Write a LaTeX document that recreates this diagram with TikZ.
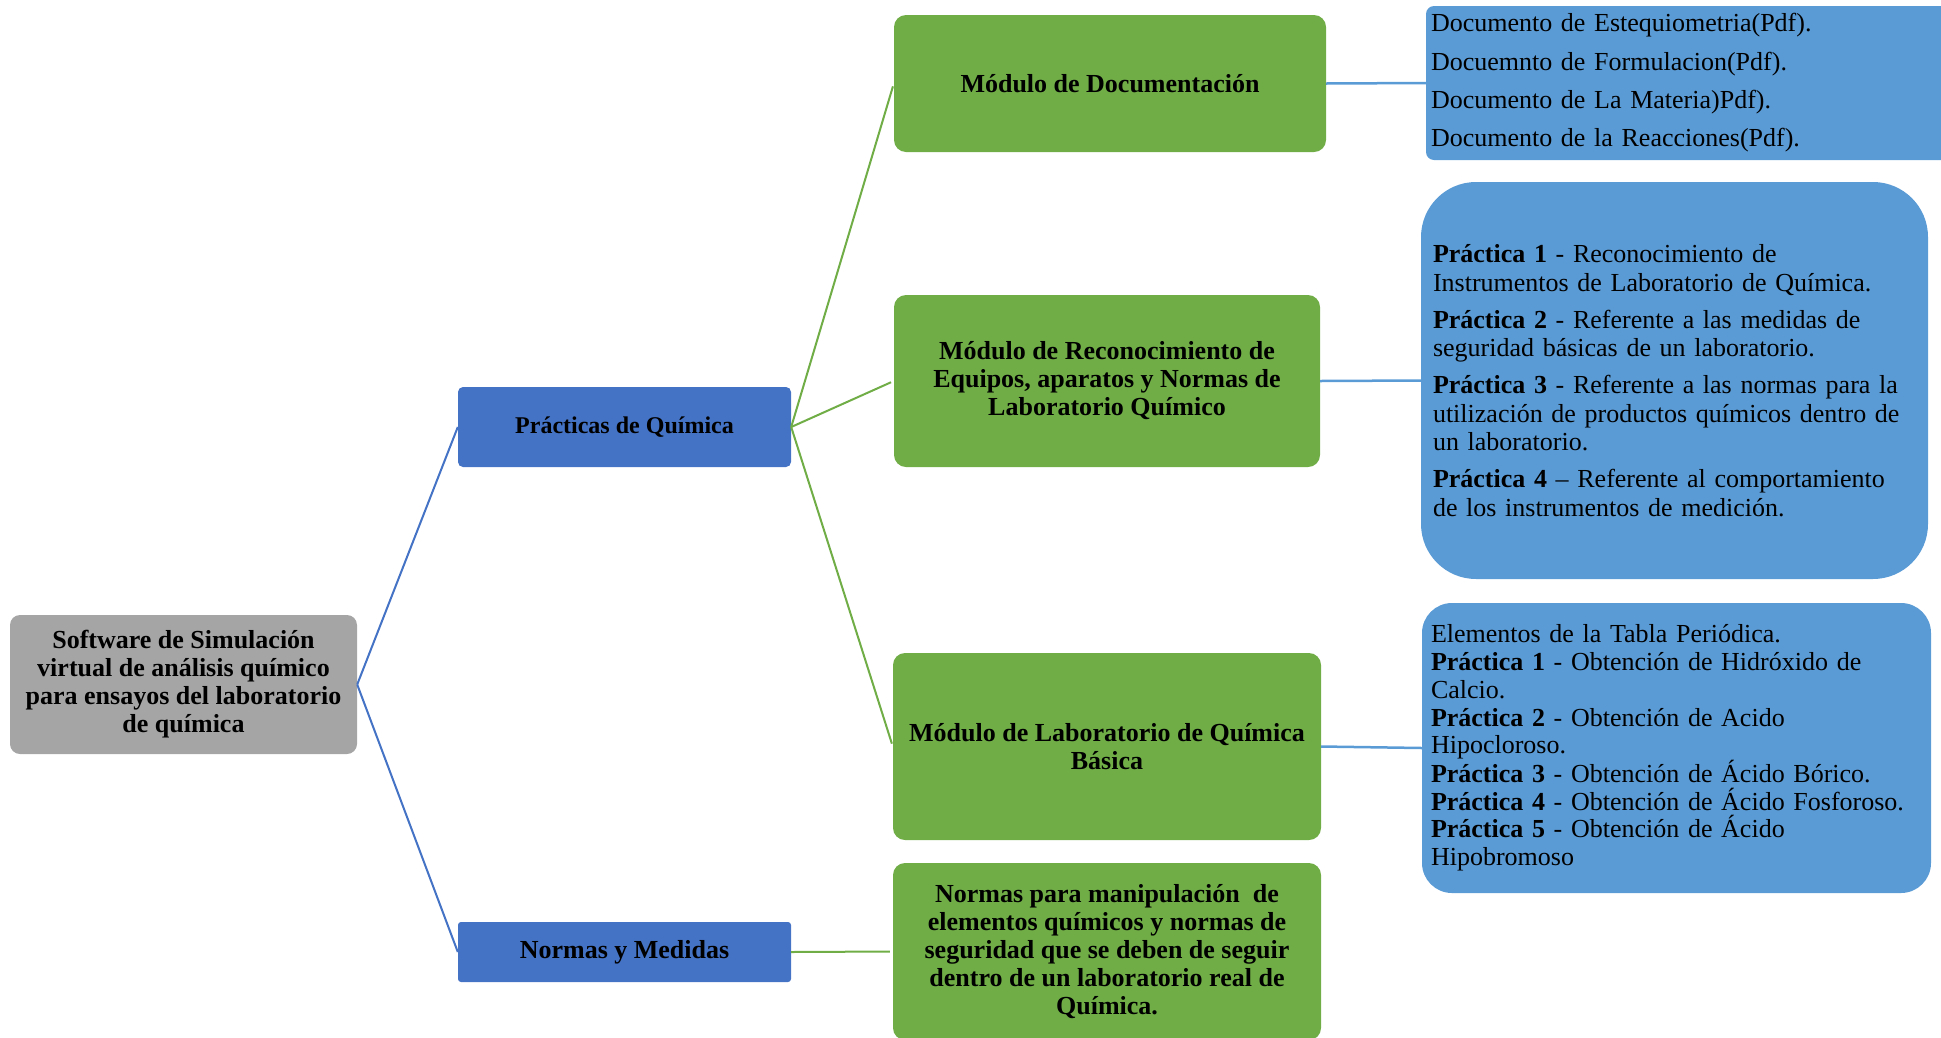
\documentclass[tikz,border=0pt]{standalone}
\usepackage{fontspec}
\setmainfont{Liberation Serif}
\definecolor{cgray}{HTML}{A5A5A5}
\definecolor{cblue}{HTML}{4472C4}
\definecolor{cgreen}{HTML}{70AD47}
\definecolor{clight}{HTML}{5B9BD5}
\begin{document}
\begin{tikzpicture}[x=1pt,y=-1pt,
  head/.style={rectangle, inner sep=0pt, align=center, text=black,
    font=\bfseries\fontsize{26}{28}\selectfont},
  rootbox/.style={head, fill=cgray, rounded corners=10pt},
  bluebox/.style={head, fill=cblue, rounded corners=5pt},
  greenbox/.style={head, fill=cgreen, rounded corners=12pt},
  listbox/.style={rectangle, fill=clight, align=left, text=black, inner ysep=0pt},
  lnblue/.style={draw=cblue, line width=2pt},
  lngreen/.style={draw=cgreen, line width=2pt, shorten >=3pt},
  lnlight/.style={draw=clight, line width=2.5pt}]
\useasboundingbox (0,0) rectangle (1941,1037);

% level 0
\node[rootbox, minimum width=347pt, minimum height=139pt] (root) at (183.5,684.5)
  {Software de Simulación\\virtual de análisis químico\\para ensayos del laboratorio\\de química};

% level 1
\node[bluebox, minimum width=333pt, minimum height=80pt,
  font=\bfseries\fontsize{24}{28}\selectfont] (prac) at (624.5,427) {Prácticas de Química};
\node[bluebox, rounded corners=3pt, minimum width=333pt, minimum height=60pt] (nm) at (624.5,952) {Normas y Medidas};

% level 2
\node[greenbox, minimum width=432pt, minimum height=137pt] (doc) at (1110,83.5) {Módulo de Documentación};
\node[greenbox, minimum width=426pt, minimum height=172pt] (rec) at (1107,381)
  {Módulo de Reconocimiento de\\Equipos, aparatos y Normas de\\Laboratorio Químico};
\node[greenbox, minimum width=428pt, minimum height=187pt] (lab) at (1107,746.5)
  {Módulo de Laboratorio de Química\\Básica};
\node[greenbox, minimum width=428pt, minimum height=177pt] (ng) at (1107,951.5)
  {Normas para manipulación~ de\\elementos químicos y normas de\\seguridad que se deben de seguir\\dentro de un laboratorio real de\\Química.};

% level 3
\node[listbox, rounded corners=8pt, inner xsep=5pt, text width=524pt,
  minimum height=154pt, font=\fontsize{26}{38.4}\selectfont] (doclist) at (1693,83)
  {Documento de Estequiometria(Pdf).\\Docuemnto de Formulacion(Pdf).\\Documento de La Materia)Pdf).\\Documento de la Reacciones(Pdf).};
\node[listbox, rounded corners=55pt, inner xsep=12pt, text width=483pt,
  minimum height=397pt, font=\fontsize{26}{28.5}\selectfont] (reclist) at (1674.5,380.5)
  {\textbf{Práctica 1} - Reconocimiento de\\Instrumentos de Laboratorio de Química.\\[8.5pt]
   \textbf{Práctica 2} - Referente a las medidas de\\seguridad básicas de un laboratorio.\\[8.5pt]
   \textbf{Práctica 3} - Referente a las normas para la\\utilización de productos químicos dentro de\\un laboratorio.\\[8.5pt]
   \textbf{Práctica 4} – Referente al comportamiento\\de los instrumentos de medición.};
\node[listbox, rounded corners=30pt, inner xsep=9pt, text width=491pt,
  minimum height=290pt, font=\fontsize{26}{27.7}\selectfont] (lablist) at (1676.5,748)
  {Elementos de la Tabla Periódica.\\
   \textbf{Práctica 1} - Obtención de Hidróxido de\\Calcio.\\
   \textbf{Práctica 2} - Obtención de Acido\\Hipocloroso.\\
   \textbf{Práctica 3} - Obtención de Ácido Bórico.\\
   \textbf{Práctica 4} - Obtención de Ácido Fosforoso.\\
   \textbf{Práctica 5} - Obtención de Ácido\\Hipobromoso};

% connectors
\draw[lnblue] (root.east) -- (prac.west);
\draw[lnblue] (root.east) -- (nm.west);
\draw[lngreen] (prac.east) -- (doc.west);
\draw[lngreen] (prac.east) -- (rec.west);
\draw[lngreen] (prac.east) -- (lab.west);
\draw[lngreen] (nm.east) -- (ng.west);
\draw[lnlight] (doc.east) -- (doclist.west);
\draw[lnlight] (rec.east) -- (reclist.west);
\draw[lnlight] (lab.east) -- (lablist.west);
\end{tikzpicture}
\end{document}
